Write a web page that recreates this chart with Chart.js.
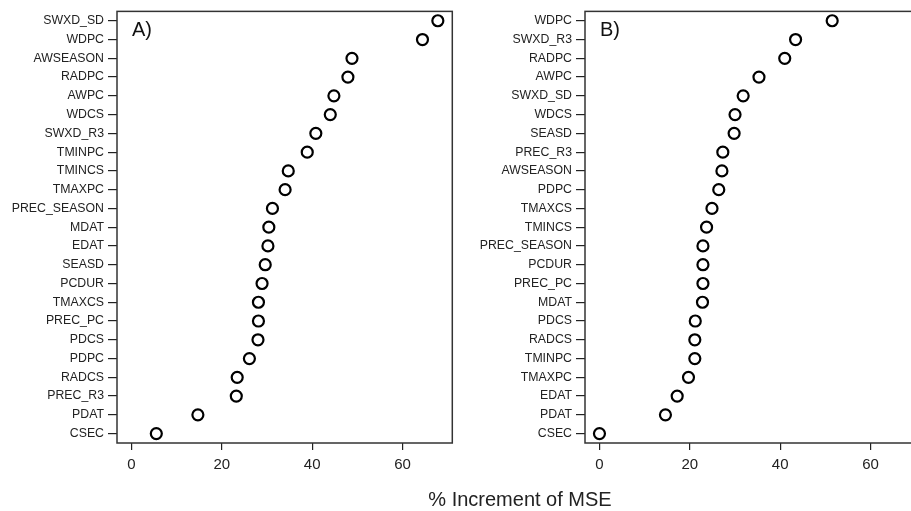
<!DOCTYPE html>
<html>
<head>
<meta charset="utf-8">
<script src="https://cdn.jsdelivr.net/npm/chart.js@4"></script>
<style>
  html, body { margin: 0; padding: 0; background: #fff; }
  #wrap { position: relative; width: 911px; height: 511px; overflow: hidden; }
  .panel { position: absolute; top: 0; width: 460px; height: 511px; }
  #panelA { left: 0; }
  #panelB { left: 468px; }
  #xTitle {
    position: absolute; top: 488px; left: 420px; width: 200px; text-align: center;
    font: 20px "Liberation Sans", Arial, sans-serif; color: #222;
  }
</style>
</head>
<body>
<div id="wrap">
  <div class="panel" id="panelA"><canvas id="chartA"></canvas></div>
  <div class="panel" id="panelB"><canvas id="chartB"></canvas></div>
  <div id="xTitle">% Increment of MSE</div>
</div>
<script>
// variable importance, panel A (top to bottom)
const namesA = ['SWXD_SD', 'WDPC', 'AWSEASON', 'RADPC', 'AWPC', 'WDCS', 'SWXD_R3', 'TMINPC',
  'TMINCS', 'TMAXPC', 'PREC_SEASON', 'MDAT', 'EDAT', 'SEASD', 'PCDUR', 'TMAXCS',
  'PREC_PC', 'PDCS', 'PDPC', 'RADCS', 'PREC_R3', 'PDAT', 'CSEC'];
const mseA = [67.8, 64.4, 48.8, 47.9, 44.8, 44.0, 40.8, 38.9,
  34.7, 34.0, 31.2, 30.4, 30.2, 29.6, 28.9, 28.1,
  28.1, 28.0, 26.1, 23.4, 23.2, 14.7, 5.5];

// variable importance, panel B (top to bottom)
const namesB = ['WDPC', 'SWXD_R3', 'RADPC', 'AWPC', 'SWXD_SD', 'WDCS', 'SEASD', 'PREC_R3',
  'AWSEASON', 'PDPC', 'TMAXCS', 'TMINCS', 'PREC_SEASON', 'PCDUR', 'PREC_PC', 'MDAT',
  'PDCS', 'RADCS', 'TMINPC', 'TMAXPC', 'EDAT', 'PDAT', 'CSEC'];
const mseB = [51.5, 43.4, 41.0, 35.3, 31.8, 30.0, 29.8, 27.3,
  27.1, 26.4, 24.9, 23.7, 22.9, 22.9, 22.9, 22.8,
  21.2, 21.1, 21.1, 19.7, 17.2, 14.6, 0.0];

const xTicks = [0, 20, 40, 60];
const xMin = -3.2, xMax = 71;

const FONT = '"Liberation Sans", Arial, sans-serif';
const INK = '#222';

// box around the plot area plus the panel letter
const boxPlugin = {
  id: 'box',
  afterDraw(chart, args, opts) {
    const { ctx, chartArea: a } = chart;
    ctx.save();
    ctx.strokeStyle = '#333';
    ctx.lineWidth = 1.5;
    ctx.strokeRect(a.left, a.top, a.right - a.left, a.bottom - a.top);
    ctx.fillStyle = '#111';
    ctx.font = '20px ' + FONT;
    ctx.textBaseline = 'middle';
    ctx.fillText(opts.letter, a.left + 15, a.top + 19);
    ctx.restore();
  }
};

function dotChart(id, names, values, letter) {
  return new Chart(id, {
    type: 'line',
    data: {
      labels: names,
      datasets: [{
        data: values,
        showLine: false,
        pointRadius: 5.5,
        pointHoverRadius: 5.5,
        pointBorderWidth: 2.2,
        pointBorderColor: '#000',
        pointBackgroundColor: 'rgba(0,0,0,0)'
      }]
    },
    options: {
      indexAxis: 'y',
      responsive: false,
      animation: false,
      layout: { padding: { top: 11, right: 5, left: 0, bottom: 0 } },
      plugins: {
        legend: { display: false },
        tooltip: { enabled: false },
        box: { letter: letter }
      },
      scales: {
        x: {
          type: 'linear',
          min: xMin,
          max: xMax,
          afterBuildTicks: (axis) => { axis.ticks = xTicks.map(v => ({ value: v })); },
          afterFit: (axis) => { axis.height = 68; },
          grid: { drawOnChartArea: false, tickLength: 7, color: INK, lineWidth: 1.2 },
          border: { display: false },
          ticks: { color: INK, padding: 6, font: { family: FONT, size: 15 } }
        },
        y: {
          type: 'category',
          offset: true,
          afterFit: (axis) => { axis.width = 117; },
          grid: { drawOnChartArea: false, tickLength: 9, color: INK, lineWidth: 1.2, offset: false },
          border: { display: false },
          ticks: { color: INK, padding: 4, autoSkip: false, font: { family: FONT, size: 12.3 } }
        }
      }
    },
    plugins: [boxPlugin]
  });
}

for (const id of ['chartA', 'chartB']) {
  const c = document.getElementById(id);
  c.width = 460;
  c.height = 511;
}
dotChart('chartA', namesA, mseA, 'A)');
dotChart('chartB', namesB, mseB, 'B)');
</script>
</body>
</html>
